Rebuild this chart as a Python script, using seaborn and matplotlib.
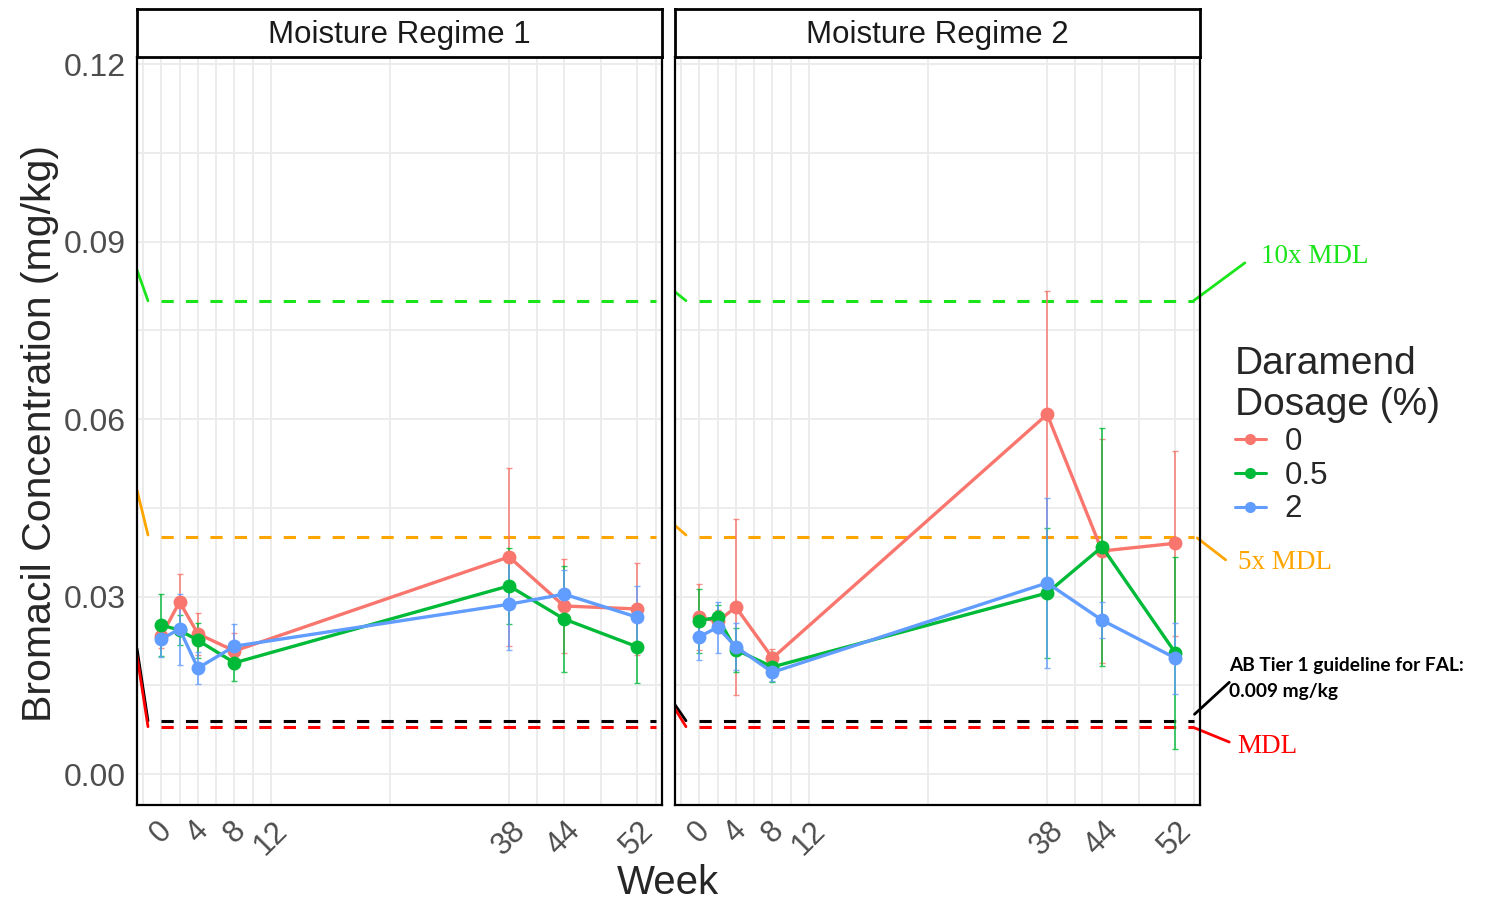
import numpy as np
import pandas as pd
import seaborn as sns
import matplotlib.pyplot as plt
from matplotlib.lines import Line2D

# data
weeks = [0, 2, 4, 8, 38, 44, 52]
doses = ["0", "0.5", "2"]
regimes = ["Moisture Regime 1", "Moisture Regime 2"]

r1_d0 = [0.0233, 0.0291, 0.0237, 0.0208, 0.0367, 0.0284, 0.0279]
r1_d05 = [0.0252, 0.0243, 0.0226, 0.0188, 0.0318, 0.0262, 0.0215]
r1_d2 = [0.0228, 0.0245, 0.0179, 0.0216, 0.0287, 0.0304, 0.0265]
r1_e0 = [0.0020, 0.0047, 0.0035, 0.0030, 0.0150, 0.0080, 0.0078]
r1_e05 = [0.0052, 0.0025, 0.0030, 0.0030, 0.0064, 0.0089, 0.0061]
r1_e2 = [0.0030, 0.0060, 0.0027, 0.0037, 0.0078, 0.0040, 0.0053]

r2_d0 = [0.0265, 0.0258, 0.0282, 0.0196, 0.0608, 0.0377, 0.0390]
r2_d05 = [0.0259, 0.0265, 0.0210, 0.0181, 0.0306, 0.0384, 0.0205]
r2_d2 = [0.0232, 0.0248, 0.0215, 0.0172, 0.0323, 0.0260, 0.0196]
r2_e0 = [0.0056, 0.0020, 0.0149, 0.0015, 0.0208, 0.0190, 0.0156]
r2_e05 = [0.0054, 0.0020, 0.0037, 0.0025, 0.0110, 0.0201, 0.0162]
r2_e2 = [0.0040, 0.0043, 0.0040, 0.0015, 0.0143, 0.0030, 0.0060]

# reference levels
mdl = 0.008
tier1 = 0.009
mdl5 = 0.04
mdl10 = 0.08

major_weeks = [0, 4, 8, 12, 38, 44, 52]
minor_weeks = [-2, 2, 6, 10, 25, 41, 48, 54]
yticks = [0.00, 0.03, 0.06, 0.09, 0.12]
ytick_labels = ["0.00", "0.03", "0.06", "0.09", "0.12"]

rows = []
for reg, vals, errs in [(regimes[0], [r1_d0, r1_d05, r1_d2], [r1_e0, r1_e05, r1_e2]),
                        (regimes[1], [r2_d0, r2_d05, r2_d2], [r2_e0, r2_e05, r2_e2])]:
    for d, v, e in zip(doses, vals, errs):
        for w, c, s in zip(weeks, v, e):
            rows.append({"regime": reg, "dose": d, "week": w, "conc": c, "err": s})
df = pd.DataFrame(rows)

palette = {"0": "#F8766D", "0.5": "#00BA38", "2": "#619CFF"}

sns.set_style("white")
plt.rcParams["font.family"] = ["Liberation Sans", "DejaVu Sans"]

W, H = 1486, 905
fig = plt.figure(figsize=(W / 100, H / 100), dpi=100)

xlim = (-2.65, 54.7)
ylim = (-0.00524, 0.1212)

# clipped stubs at left of each panel
stubs = [
    {"green": (0.080, 0.0852), "orange": (0.0404, 0.048), "black": (0.009, 0.0212), "red": (0.008, 0.020)},
    {"green": (0.080, 0.0815), "orange": (0.0404, 0.042), "black": (0.009, 0.0117), "red": (0.008, 0.011)},
]
line_cols = {"green": "#1AE51A", "orange": "#FFA500", "black": "black", "red": "#FF0000"}

axes = []
for i, reg in enumerate(regimes):
    left = (137 + i * 538) / W
    ax = fig.add_axes([left, 100 / H, 525 / W, 748 / H])
    axes.append(ax)
    sub = df[df.regime == reg]

    # grid
    for x in major_weeks + minor_weeks:
        ax.axvline(x, color="#EBEBEB", lw=1.3, zorder=0)
    for y in np.arange(0, 0.1201, 0.015):
        ax.axhline(y, color="#EBEBEB", lw=1.3, zorder=0)

    # reference lines
    for y, c in [(mdl10, "green"), (mdl5, "orange"), (tier1, "black"), (mdl, "red")]:
        ax.plot([0, 54], [y, y], color=line_cols[c], lw=2.2, ls=(0, (4, 4)), zorder=1)
    for c, (ya, yb) in stubs[i].items():
        ax.plot([-1.45, -2.65], [ya, yb], color=line_cols[c], lw=2.0, zorder=1)

    for d in doses:
        s = sub[sub.dose == d]
        ax.errorbar(s.week, s.conc, yerr=s.err, fmt="none", ecolor=palette[d],
                    elinewidth=1.3, capsize=2, alpha=0.8, zorder=2)
    sns.lineplot(data=sub, x="week", y="conc", hue="dose", hue_order=doses,
                 palette=palette, marker="o", markersize=10, markeredgewidth=0,
                 linewidth=2.4, ax=ax, legend=False, zorder=3)

    ax.set_xlim(*xlim)
    ax.set_ylim(*ylim)
    ax.set_xticks(major_weeks)
    ax.set_xticklabels([str(w) for w in major_weeks], rotation=45, ha="center",
                       fontsize=22, color="#4D4D4D")
    ax.set_yticks(yticks)
    if i == 0:
        ax.set_yticklabels(ytick_labels, fontsize=23, color="#4D4D4D")
    else:
        ax.set_yticklabels([])
    ax.tick_params(length=0, pad=8)
    ax.set_xlabel("")
    ax.set_ylabel("")
    for sp in ax.spines.values():
        sp.set_visible(True)
        sp.set_color("black")
        sp.set_linewidth(1.6)

    # facet strip
    sax = fig.add_axes([left, 848 / H, 525 / W, 48 / H])
    sax.set_xticks([])
    sax.set_yticks([])
    for sp in sax.spines.values():
        sp.set_visible(True)
        sp.set_color("black")
        sp.set_linewidth(2)
    sax.text(0.5, 0.45, reg, ha="center", va="center", fontsize=22.5, color="#1A1A1A",
             transform=sax.transAxes)

fig.text(40 / W, 1 - 433 / H, "Bromacil Concentration (mg/kg)", rotation=90,
         ha="center", va="center", fontsize=29.5)
fig.text(668 / W, 1 - 883 / H, "Week", ha="center", va="center", fontsize=29)

# legend
handles = [Line2D([0], [0], color=palette[d], marker="o", markersize=8, lw=2.2,
                  markeredgewidth=0) for d in doses]
leg = fig.legend(handles, doses, title="Daramend\nDosage (%)", loc="upper left",
                 bbox_to_anchor=(1219 / W, 1 - 330 / H), frameon=False,
                 fontsize=22.5, title_fontsize=28, handlelength=1.0,
                 labelspacing=0.12, handletextpad=0.6, borderpad=0)
leg._legend_box.align = "left"

# annotations off the right panel
ax2 = axes[1]
ann = [
    ("green", (54.0, 59.6), (0.0800, 0.0864)),
    ("orange", (54.4, 57.5), (0.0399, 0.0362)),
    ("black", (54.1, 57.9), (0.0101, 0.0155)),
    ("red", (54.1, 57.9), (0.0078, 0.0054)),
]
for c, xs, ys in ann:
    ax2.plot(xs, ys, color=line_cols[c], lw=2.0, clip_on=False)
ax2.text(61.4, 0.0875, "10x MDL", color="#1AE51A", fontsize=19.5,
         family="Liberation Serif", va="center", clip_on=False)
ax2.text(58.8, 0.0358, "5x MDL", color="#FFA500", fontsize=19.5,
         family="Liberation Serif", va="center", clip_on=False)
ax2.text(58.8, 0.0046, "MDL", color="#FF0000", fontsize=19.5,
         family="Liberation Serif", va="center", clip_on=False)
ax2.text(57.9, 0.0183, "AB Tier 1 guideline for FAL:", color="black", fontsize=13.8,
         family="Lato", weight="bold", va="center", clip_on=False)
ax2.text(57.9, 0.0140, "0.009 mg/kg", color="black", fontsize=13.8,
         family="Lato", weight="bold", va="center", clip_on=False)

fig.savefig("out.png", dpi=100)
